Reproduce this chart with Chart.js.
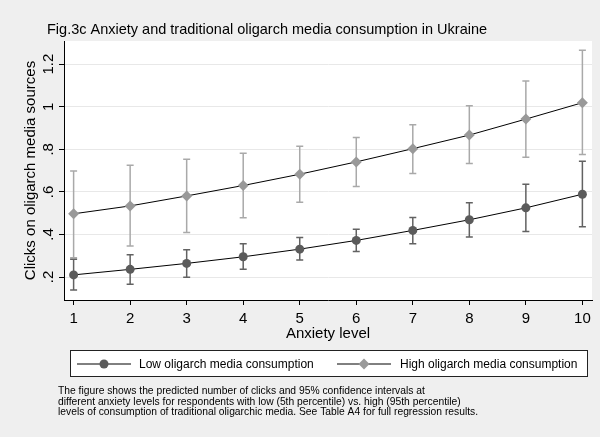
<!DOCTYPE html>
<html>
<head>
<meta charset="utf-8">
<script src="https://cdn.jsdelivr.net/npm/chart.js@4"></script>
<style>
  html, body { margin: 0; padding: 0; background: #efefef; }
  canvas { display: block; }
</style>
</head>
<body>
<canvas id="anxietyChart" width="600" height="437"></canvas>
<script>
// ===== Data =====
const anxiety = [1, 2, 3, 4, 5, 6, 7, 8, 9, 10];

const lowMean = [0.210, 0.236, 0.264, 0.295, 0.331, 0.372, 0.419, 0.469, 0.525, 0.589];
const lowLo   = [0.139, 0.166, 0.199, 0.237, 0.280, 0.320, 0.356, 0.388, 0.414, 0.436];
const lowHi   = [0.284, 0.305, 0.328, 0.356, 0.386, 0.425, 0.480, 0.549, 0.636, 0.744];

const highMean = [0.497, 0.534, 0.581, 0.630, 0.683, 0.741, 0.803, 0.867, 0.942, 1.019];
const highLo   = [0.290, 0.346, 0.409, 0.478, 0.551, 0.625, 0.686, 0.733, 0.763, 0.776];
const highHi   = [0.698, 0.725, 0.753, 0.781, 0.814, 0.856, 0.915, 1.005, 1.121, 1.266];

const yTicks = [0.2, 0.4, 0.6, 0.8, 1, 1.2];
const yTickLabels = ['.2', '.4', '.6', '.8', '1', '1.2'];

const seriesNames = ['Low oligarch media consumption', 'High oligarch media consumption'];
const titleText = 'Fig.3c Anxiety and traditional oligarch media consumption in Ukraine';
const xTitle = 'Anxiety level';
const yTitle = 'Clicks on oligarch media sources';
const noteLines = [
  'The figure shows the predicted number of clicks and 95% confidence intervals at',
  'different anxiety levels for respondents with low (5th percentile) vs. high (95th percentile)',
  'levels of consumption of traditional oligarchic media. See Table A4 for full regression results.'
];

const FONT = '"Liberation Sans", Arial, sans-serif';
const LOW_COLOR = '#5b5b5b';
const LOW_CI = '#626262';
const HIGH_COLOR = '#999999';
const HIGH_CI = '#a9a9a9';

const toPoints = (ys) => anxiety.map((x, i) => ({ x: x, y: ys[i] }));

// ===== Plugins =====
const backgroundPlugin = {
  id: 'background',
  beforeDraw(chart) {
    const { ctx, chartArea } = chart;
    ctx.save();
    ctx.fillStyle = '#efefef';
    ctx.fillRect(0, 0, chart.width, chart.height);
    ctx.fillStyle = '#ffffff';
    ctx.fillRect(chartArea.left, chartArea.top, chartArea.right - chartArea.left, chartArea.bottom - chartArea.top);
    ctx.restore();
  }
};

// confidence interval caps
const ciPlugin = {
  id: 'ciBars',
  beforeDatasetsDraw(chart) {
    const { ctx, scales: { x, y } } = chart;
    const bands = [
      { lo: highLo, hi: highHi, color: HIGH_CI },
      { lo: lowLo, hi: lowHi, color: LOW_CI }
    ];
    ctx.save();
    ctx.lineWidth = 1.5;
    bands.forEach(b => {
      ctx.strokeStyle = b.color;
      anxiety.forEach((a, i) => {
        const px = x.getPixelForValue(a);
        const top = y.getPixelForValue(b.hi[i]);
        const bot = y.getPixelForValue(b.lo[i]);
        ctx.beginPath();
        ctx.moveTo(px, top);
        ctx.lineTo(px, bot);
        ctx.moveTo(px - 3.5, top);
        ctx.lineTo(px + 3.5, top);
        ctx.moveTo(px - 3.5, bot);
        ctx.lineTo(px + 3.5, bot);
        ctx.stroke();
      });
    });
    ctx.restore();
  }
};

// titles, tick labels, legend and note
const textPlugin = {
  id: 'texts',
  afterDraw(chart) {
    const { ctx, chartArea, scales: { x, y } } = chart;
    ctx.save();
    ctx.fillStyle = '#000';

    // title
    ctx.font = '14.5px ' + FONT;
    ctx.textAlign = 'left';
    ctx.textBaseline = 'alphabetic';
    ctx.fillText(titleText, 47, 34);

    // x tick labels
    ctx.font = '15px ' + FONT;
    ctx.textAlign = 'center';
    ctx.textBaseline = 'alphabetic';
    anxiety.forEach(a => ctx.fillText(String(a), x.getPixelForValue(a), 323));
    ctx.fillText(xTitle, (chartArea.left + chartArea.right) / 2, 338);

    // y tick labels (rotated)
    yTicks.forEach((v, i) => {
      ctx.save();
      ctx.translate(53, y.getPixelForValue(v));
      ctx.rotate(-Math.PI / 2);
      ctx.textAlign = 'center';
      ctx.textBaseline = 'alphabetic';
      ctx.fillText(yTickLabels[i], 0, 0);
      ctx.restore();
    });

    // y title
    ctx.save();
    ctx.translate(31, (chartArea.top + chartArea.bottom) / 2);
    ctx.rotate(-Math.PI / 2);
    ctx.textAlign = 'center';
    ctx.textBaseline = 'middle';
    ctx.fillText(yTitle, 0, 0);
    ctx.restore();

    // legend box
    ctx.fillStyle = '#ffffff';
    ctx.fillRect(70.5, 350.5, 517, 26);
    ctx.strokeStyle = '#222';
    ctx.lineWidth = 1;
    ctx.strokeRect(70.5, 350.5, 517, 26);

    const ly = 364;
    const keys = [
      { x0: 77, x1: 131, name: seriesNames[0], tx: 139, color: LOW_COLOR, style: 'circle' },
      { x0: 337, x1: 391, name: seriesNames[1], tx: 400, color: HIGH_COLOR, style: 'diamond' }
    ];
    keys.forEach(k => {
      ctx.strokeStyle = '#000';
      ctx.lineWidth = 1;
      ctx.beginPath();
      ctx.moveTo(k.x0, ly);
      ctx.lineTo(k.x1, ly);
      ctx.stroke();
      const cx = (k.x0 + k.x1) / 2;
      ctx.fillStyle = k.color;
      ctx.beginPath();
      if (k.style === 'circle') {
        ctx.arc(cx, ly, 4.5, 0, Math.PI * 2);
      } else {
        ctx.moveTo(cx - 5.5, ly);
        ctx.lineTo(cx, ly - 5.5);
        ctx.lineTo(cx + 5.5, ly);
        ctx.lineTo(cx, ly + 5.5);
        ctx.closePath();
      }
      ctx.fill();
      ctx.fillStyle = '#000';
      ctx.font = '12px ' + FONT;
      ctx.textAlign = 'left';
      ctx.textBaseline = 'middle';
      ctx.fillText(k.name, k.tx, ly + 1);
    });

    // note
    ctx.font = '10.3px ' + FONT;
    ctx.textAlign = 'left';
    ctx.textBaseline = 'alphabetic';
    noteLines.forEach((line, i) => ctx.fillText(line, 58, 394 + i * 10.7));

    ctx.restore();
  }
};

// ===== Chart =====
const anxietyChart = document.getElementById('anxietyChart');

new Chart(anxietyChart, {
  type: 'line',

  data: {
    datasets: [
      {
        label: seriesNames[0],
        data: toPoints(lowMean),
        borderColor: '#000',
        borderWidth: 1,
        pointStyle: 'circle',
        pointRadius: 4.5,
        pointBackgroundColor: LOW_COLOR,
        pointBorderColor: LOW_COLOR,
        pointBorderWidth: 0,
        tension: 0
      },
      {
        label: seriesNames[1],
        data: toPoints(highMean),
        borderColor: '#000',
        borderWidth: 1,
        pointStyle: 'rectRot',
        pointRadius: 5.5,
        pointBackgroundColor: HIGH_COLOR,
        pointBorderColor: HIGH_COLOR,
        pointBorderWidth: 0,
        tension: 0
      }
    ]
  },

  options: {
    responsive: false,
    animation: false,
    devicePixelRatio: 1,

    layout: {
      padding: { top: 41, right: 8, left: 0, bottom: 0 }
    },

    scales: {
      x: {
        type: 'linear',
        min: 0.83,
        max: 10.17,
        afterBuildTicks: (s) => { s.ticks = anxiety.map(v => ({ value: v })); },
        afterFit: (s) => { s.height = 137; },
        ticks: { display: false },
        grid: {
          drawOnChartArea: false,
          drawTicks: true,
          tickLength: 5,
          tickColor: '#000'
        },
        border: { color: '#000', width: 1 }
      },
      y: {
        min: 0.092,
        max: 1.309,
        afterBuildTicks: (s) => { s.ticks = yTicks.map(v => ({ value: v })); },
        afterFit: (s) => { s.width = 64; },
        ticks: { display: false },
        grid: {
          color: '#e8e8e8',
          drawTicks: true,
          tickLength: 5,
          tickColor: '#000'
        },
        border: { color: '#000', width: 1 }
      }
    },

    plugins: {
      legend: { display: false },
      tooltip: { enabled: false }
    }
  },

  plugins: [backgroundPlugin, ciPlugin, textPlugin]
});
</script>
</body>
</html>
